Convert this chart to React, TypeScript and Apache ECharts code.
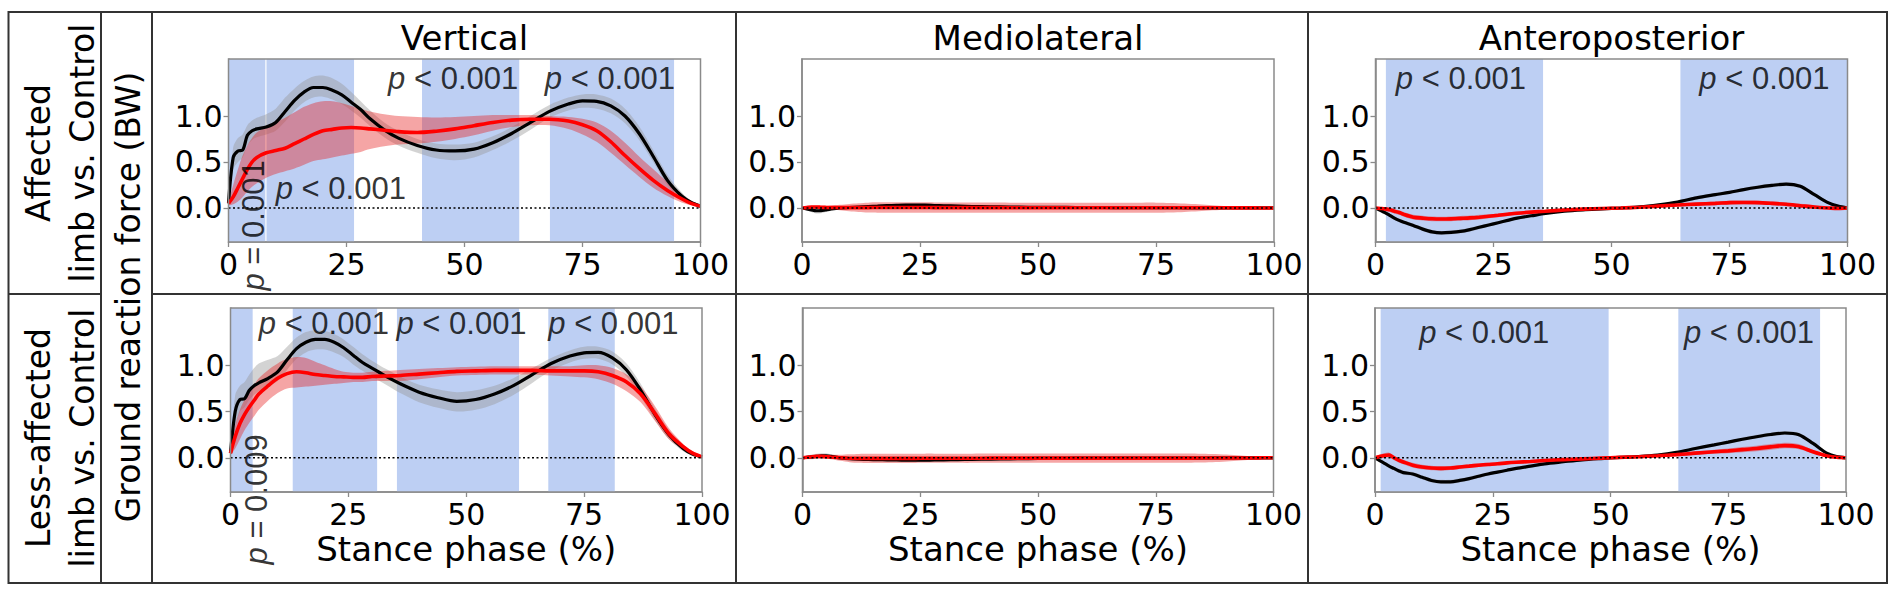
import React, { useEffect, useRef } from "react";
import * as echarts from "echarts";

// ---------- data ----------
const X = [0, 1, 2, 3, 4, 5, 6, 8, 10, 12, 14, 16, 18, 20, 22, 24, 26, 28, 30, 33, 36, 40, 44, 48, 52, 56, 60, 64, 68, 72, 75, 78, 81, 84, 87, 90, 93, 96, 98, 100];

const COLUMN_TITLES = ["Vertical", "Mediolateral", "Anteroposterior"];
const ROW_LABELS = ["Affected\nlimb vs. Control", "Less-affected\nlimb vs. Control"];
const Y_LABEL = "Ground reaction force (BW)";
const X_LABEL = "Stance phase (%)";
const X_TICKS_INTERVAL = 25;
const Y_TICKS = [0, 0.5, 1.0];
const Y_MIN = -0.37;
const Y_MAX = 1.62;

// Vertical, affected limb vs control
const V1_CTRL_MEAN = [0.05, 0.55, 0.62, 0.63, 0.79, 0.84, 0.86, 0.88, 0.93, 1.05, 1.17, 1.26, 1.31, 1.31, 1.28, 1.23, 1.15, 1.07, 0.97, 0.85, 0.76, 0.68, 0.63, 0.62, 0.64, 0.71, 0.81, 0.93, 1.05, 1.13, 1.165, 1.16, 1.11, 1.0, 0.81, 0.56, 0.3, 0.13, 0.06, 0.02];
const V1_CTRL_HI = [0.08, 0.66, 0.76, 0.8, 0.9, 0.95, 0.98, 1.02, 1.08, 1.2, 1.3, 1.38, 1.43, 1.44, 1.41, 1.35, 1.26, 1.16, 1.06, 0.93, 0.84, 0.75, 0.7, 0.69, 0.71, 0.78, 0.88, 1.0, 1.12, 1.2, 1.235, 1.235, 1.19, 1.08, 0.89, 0.63, 0.36, 0.17, 0.08, 0.03];
const V1_CTRL_LO = [0.02, 0.42, 0.5, 0.55, 0.68, 0.74, 0.77, 0.8, 0.84, 0.94, 1.06, 1.15, 1.2, 1.21, 1.18, 1.13, 1.06, 0.98, 0.89, 0.77, 0.68, 0.6, 0.54, 0.52, 0.55, 0.63, 0.73, 0.85, 0.98, 1.06, 1.09, 1.08, 1.03, 0.92, 0.74, 0.5, 0.25, 0.1, 0.04, 0.01];
const V1_PT_MEAN = [0.05, 0.12, 0.22, 0.32, 0.42, 0.5, 0.55, 0.6, 0.625, 0.65, 0.7, 0.75, 0.8, 0.84, 0.855, 0.87, 0.875, 0.87, 0.86, 0.845, 0.83, 0.82, 0.835, 0.86, 0.895, 0.93, 0.955, 0.965, 0.965, 0.945, 0.905, 0.84, 0.72, 0.57, 0.43, 0.3, 0.19, 0.1, 0.05, 0.02];
const V1_PT_HI = [0.07, 0.25, 0.42, 0.57, 0.68, 0.76, 0.82, 0.88, 0.93, 0.98, 1.04, 1.1, 1.14, 1.16, 1.16, 1.14, 1.11, 1.08, 1.05, 1.02, 1.0, 0.99, 0.985, 0.99, 1.0, 1.01, 1.01, 1.01, 1.0, 0.99, 0.97, 0.93, 0.84, 0.71, 0.56, 0.42, 0.28, 0.15, 0.08, 0.03];
const V1_PT_LO = [0.03, 0.04, 0.07, 0.12, 0.18, 0.23, 0.27, 0.33, 0.37, 0.4, 0.43, 0.47, 0.51, 0.53, 0.55, 0.57, 0.59, 0.61, 0.64, 0.67, 0.69, 0.7, 0.72, 0.75, 0.79, 0.84, 0.88, 0.9, 0.9, 0.86, 0.8, 0.72, 0.6, 0.47, 0.34, 0.22, 0.13, 0.06, 0.03, 0.01];

// Vertical, less-affected limb vs control
const V2_CTRL_MEAN = [0.05, 0.5, 0.63, 0.64, 0.73, 0.78, 0.81, 0.86, 0.93, 1.06, 1.18, 1.25, 1.28, 1.28, 1.25, 1.19, 1.11, 1.03, 0.97, 0.88, 0.8, 0.71, 0.65, 0.61, 0.63, 0.69, 0.78, 0.9, 1.02, 1.1, 1.135, 1.14, 1.08, 0.95, 0.73, 0.47, 0.25, 0.1, 0.04, 0.01];
const V2_CTRL_HI = [0.1, 0.68, 0.78, 0.82, 0.9, 0.97, 1.02, 1.06, 1.1, 1.2, 1.3, 1.36, 1.38, 1.37, 1.34, 1.28, 1.2, 1.12, 1.05, 0.96, 0.88, 0.79, 0.74, 0.71, 0.73, 0.78, 0.86, 0.97, 1.08, 1.16, 1.2, 1.2, 1.15, 1.02, 0.8, 0.53, 0.3, 0.13, 0.06, 0.02];
const V2_CTRL_LO = [0.02, 0.32, 0.5, 0.55, 0.63, 0.68, 0.72, 0.77, 0.83, 0.95, 1.07, 1.14, 1.17, 1.17, 1.14, 1.09, 1.01, 0.94, 0.88, 0.79, 0.7, 0.6, 0.54, 0.5, 0.52, 0.58, 0.68, 0.81, 0.94, 1.03, 1.07, 1.07, 1.01, 0.88, 0.66, 0.41, 0.2, 0.07, 0.02, 0.0];
const V2_PT_MEAN = [0.05, 0.23, 0.37, 0.47, 0.55, 0.62, 0.69, 0.78, 0.86, 0.91, 0.93, 0.92, 0.9, 0.89, 0.88, 0.875, 0.87, 0.87, 0.88, 0.885, 0.89, 0.905, 0.92, 0.935, 0.94, 0.945, 0.945, 0.945, 0.94, 0.94, 0.94, 0.93, 0.89, 0.82, 0.69, 0.48, 0.26, 0.12, 0.05, 0.01];
const V2_PT_HI = [0.07, 0.35, 0.52, 0.63, 0.71, 0.79, 0.86, 0.95, 1.02, 1.07, 1.09, 1.08, 1.04, 1.0, 0.96, 0.93, 0.92, 0.92, 0.93, 0.94, 0.95, 0.96, 0.97, 0.98, 0.985, 0.99, 0.99, 0.99, 0.99, 0.99, 1.0, 1.0, 0.97, 0.9, 0.77, 0.56, 0.32, 0.15, 0.07, 0.02];
const V2_PT_LO = [0.03, 0.1, 0.2, 0.3, 0.38, 0.45, 0.52, 0.62, 0.7, 0.75, 0.76, 0.77, 0.78, 0.79, 0.8, 0.81, 0.82, 0.82, 0.83, 0.83, 0.83, 0.85, 0.87, 0.89, 0.895, 0.9, 0.9, 0.9, 0.89, 0.88, 0.87, 0.85, 0.8, 0.72, 0.6, 0.4, 0.2, 0.09, 0.03, 0.0];

// Mediolateral
const ML1_CTRL_MEAN = [0, -0.01, -0.02, -0.03, -0.028, -0.02, -0.012, 0, 0.005, 0.01, 0.015, 0.02, 0.025, 0.028, 0.03, 0.03, 0.03, 0.027, 0.024, 0.02, 0.016, 0.012, 0.01, 0.008, 0.007, 0.006, 0.005, 0.005, 0.004, 0.004, 0.003, 0.003, 0.002, 0.002, 0.001, 0.001, 0, 0, 0, 0];
const ML1_CTRL_SD = [0.005, 0.015, 0.025, 0.03, 0.03, 0.025, 0.02, 0.015, 0.015, 0.015, 0.015, 0.015, 0.015, 0.015, 0.015, 0.015, 0.015, 0.015, 0.015, 0.015, 0.012, 0.012, 0.012, 0.012, 0.012, 0.012, 0.012, 0.012, 0.012, 0.012, 0.012, 0.012, 0.01, 0.01, 0.01, 0.008, 0.006, 0.005, 0.004, 0.003];
const ML1_PT_MEAN = [0, 0.005, 0.01, 0.01, 0.008, 0.006, 0.005, 0.004, 0.004, 0.004, 0.004, 0.005, 0.005, 0.005, 0.005, 0.005, 0.005, 0.004, 0.004, 0.004, 0.004, 0.004, 0.003, 0.003, 0.003, 0.003, 0.003, 0.003, 0.003, 0.003, 0.003, 0.003, 0.003, 0.002, 0.002, 0.002, 0.001, 0.001, 0, 0];
const ML1_PT_SD = [0.006, 0.01, 0.012, 0.014, 0.016, 0.018, 0.022, 0.03, 0.04, 0.048, 0.054, 0.056, 0.056, 0.056, 0.056, 0.056, 0.056, 0.056, 0.056, 0.056, 0.055, 0.055, 0.055, 0.055, 0.055, 0.055, 0.055, 0.055, 0.055, 0.055, 0.055, 0.052, 0.046, 0.038, 0.028, 0.018, 0.012, 0.009, 0.007, 0.005];
const ML2_CTRL_MEAN = [0, 0.005, 0.01, 0.015, 0.02, 0.02, 0.015, 0.0, -0.01, -0.015, -0.018, -0.02, -0.022, -0.024, -0.025, -0.025, -0.025, -0.024, -0.022, -0.02, -0.017, -0.014, -0.011, -0.008, -0.006, -0.005, -0.004, -0.004, -0.004, -0.004, -0.004, -0.004, -0.003, -0.003, -0.002, -0.002, -0.001, 0, 0, 0];
const ML2_CTRL_SD = [0.005, 0.02, 0.025, 0.028, 0.03, 0.028, 0.022, 0.015, 0.012, 0.012, 0.012, 0.012, 0.012, 0.012, 0.012, 0.012, 0.012, 0.012, 0.012, 0.012, 0.012, 0.012, 0.012, 0.012, 0.012, 0.012, 0.012, 0.012, 0.012, 0.012, 0.012, 0.012, 0.012, 0.01, 0.01, 0.008, 0.006, 0.005, 0.004, 0.003];
const ML2_PT_MEAN = [0, 0.006, 0.012, 0.015, 0.015, 0.012, 0.008, 0.0, -0.005, -0.006, -0.006, -0.006, -0.006, -0.006, -0.006, -0.006, -0.005, -0.005, -0.005, -0.005, -0.005, -0.004, -0.004, -0.004, -0.004, -0.004, -0.004, -0.004, -0.004, -0.004, -0.004, -0.004, -0.004, -0.003, -0.003, -0.002, -0.002, -0.001, 0, 0];
const ML2_PT_SD = [0.006, 0.012, 0.014, 0.016, 0.018, 0.02, 0.024, 0.032, 0.042, 0.048, 0.05, 0.05, 0.05, 0.05, 0.05, 0.05, 0.05, 0.05, 0.05, 0.05, 0.05, 0.05, 0.05, 0.05, 0.05, 0.05, 0.05, 0.05, 0.05, 0.05, 0.05, 0.05, 0.05, 0.048, 0.045, 0.038, 0.028, 0.018, 0.01, 0.006];

// Anteroposterior
const AP1_CTRL_MEAN = [0, -0.025, -0.05, -0.08, -0.11, -0.135, -0.155, -0.19, -0.23, -0.26, -0.27, -0.265, -0.255, -0.235, -0.21, -0.185, -0.16, -0.135, -0.11, -0.085, -0.06, -0.035, -0.02, -0.01, 0.0, 0.012, 0.035, 0.065, 0.11, 0.145, 0.17, 0.2, 0.225, 0.245, 0.26, 0.235, 0.145, 0.055, 0.02, 0];
const AP1_CTRL_SD = [0.005, 0.01, 0.015, 0.02, 0.02, 0.02, 0.02, 0.02, 0.02, 0.02, 0.02, 0.02, 0.02, 0.02, 0.02, 0.02, 0.015, 0.015, 0.015, 0.012, 0.012, 0.01, 0.01, 0.01, 0.01, 0.01, 0.012, 0.012, 0.015, 0.015, 0.015, 0.018, 0.02, 0.02, 0.02, 0.02, 0.018, 0.012, 0.008, 0.005];
const AP1_PT_MEAN = [0, -0.005, -0.01, -0.02, -0.035, -0.05, -0.07, -0.1, -0.11, -0.118, -0.12, -0.118, -0.113, -0.108, -0.1, -0.09, -0.08, -0.068, -0.057, -0.045, -0.035, -0.022, -0.012, -0.006, 0.0, 0.008, 0.02, 0.032, 0.042, 0.05, 0.058, 0.06, 0.058, 0.05, 0.04, 0.025, 0.01, 0.0, -0.005, 0];
const AP1_PT_SD = [0.01, 0.015, 0.02, 0.025, 0.025, 0.025, 0.025, 0.025, 0.025, 0.025, 0.025, 0.025, 0.025, 0.025, 0.025, 0.022, 0.02, 0.02, 0.018, 0.016, 0.015, 0.015, 0.015, 0.015, 0.015, 0.015, 0.015, 0.015, 0.018, 0.02, 0.02, 0.02, 0.02, 0.02, 0.02, 0.02, 0.018, 0.015, 0.015, 0.012];
const AP2_CTRL_MEAN = [0, -0.03, -0.06, -0.09, -0.115, -0.14, -0.16, -0.175, -0.21, -0.245, -0.26, -0.26, -0.245, -0.225, -0.2, -0.175, -0.155, -0.135, -0.115, -0.09, -0.065, -0.043, -0.022, -0.008, 0.004, 0.014, 0.03, 0.058, 0.1, 0.14, 0.17, 0.2, 0.228, 0.252, 0.268, 0.25, 0.155, 0.047, 0.012, 0];
const AP2_CTRL_SD = [0.005, 0.012, 0.018, 0.02, 0.022, 0.022, 0.022, 0.022, 0.022, 0.022, 0.022, 0.022, 0.02, 0.02, 0.018, 0.016, 0.015, 0.014, 0.013, 0.012, 0.011, 0.01, 0.01, 0.01, 0.01, 0.01, 0.012, 0.012, 0.015, 0.016, 0.017, 0.018, 0.02, 0.02, 0.02, 0.02, 0.018, 0.012, 0.008, 0.005];
const AP2_PT_MEAN = [0, 0.015, 0.025, 0.03, 0.0, -0.025, -0.045, -0.08, -0.1, -0.11, -0.115, -0.11, -0.1, -0.09, -0.08, -0.072, -0.065, -0.055, -0.048, -0.04, -0.03, -0.02, -0.012, -0.004, 0.004, 0.012, 0.022, 0.034, 0.05, 0.065, 0.075, 0.088, 0.1, 0.118, 0.132, 0.12, 0.065, 0.02, 0.005, 0];
const AP2_PT_SD = [0.01, 0.02, 0.025, 0.025, 0.025, 0.025, 0.025, 0.025, 0.025, 0.025, 0.025, 0.022, 0.02, 0.02, 0.02, 0.018, 0.016, 0.015, 0.015, 0.015, 0.015, 0.015, 0.015, 0.015, 0.015, 0.015, 0.015, 0.018, 0.02, 0.022, 0.025, 0.028, 0.03, 0.03, 0.03, 0.028, 0.02, 0.015, 0.012, 0.01];

// significance bands (stance phase %)
const V1_BANDS = [[0, 7.8], [8.05, 26.6], [41.0, 61.6], [68.1, 94.4]];
const ML1_BANDS: number[][] = [];
const AP1_BANDS = [[2.2, 35.5], [64.6, 100]];
const V2_BANDS = [[0, 4.7], [13.2, 31.1], [35.3, 61.2], [67.4, 81.5]];
const ML2_BANDS: number[][] = [];
const AP2_BANDS = [[1.2, 49.6], [64.4, 94.5]];

// p-value annotations: [x, y, text, rotation]
const V1_P: [number, number, string, number][] = [[47.6, 1.405, "< 0.001", 0], [80.8, 1.405, "< 0.001", 0], [23.8, 0.216, "< 0.001", 0], [5.2, -0.19, "= 0.001", 90]];
const ML1_P: [number, number, string, number][] = [];
const AP1_P: [number, number, string, number][] = [[18.1, 1.405, "< 0.001", 0], [82.4, 1.405, "< 0.001", 0]];
const V2_P: [number, number, string, number][] = [[19.8, 1.45, "< 0.001", 0], [49.0, 1.45, "< 0.001", 0], [81.2, 1.45, "< 0.001", 0], [5.6, -0.45, "= 0.009", 90]];
const ML2_P: [number, number, string, number][] = [];
const AP2_P: [number, number, string, number][] = [[23.2, 1.355, "< 0.001", 0], [79.4, 1.355, "< 0.001", 0]];

// ---------- layout / style ----------
const PLOT_LEFT = [[228.5, 802, 1375.5], [230.5, 802.5, 1375]];
const PLOT_W = [[472, 472, 472], [471.5, 471, 471]];
const ROW_TOP = [59, 308];
const ROW_H = [183, 184];
const FONT_UI = "'DejaVu Sans', sans-serif";
const FONT_P = "'Liberation Sans', Arial, sans-serif";
const BAND_COLOR = "#bdcff3";
const GRAY_SD = "rgba(150,150,150,0.42)";
const RED_SD = "rgba(230,30,30,0.4)";
const FRAME = "#8a8a8a";
const TABLE = "#333333";

const withSd = (mean: number[], sd: number[]) => ({ mean, hi: mean.map((v, i) => v + sd[i]), lo: mean.map((v, i) => v - sd[i]) });

const PANELS = [
  { ctrl: { mean: V1_CTRL_MEAN, hi: V1_CTRL_HI, lo: V1_CTRL_LO }, pt: { mean: V1_PT_MEAN, hi: V1_PT_HI, lo: V1_PT_LO }, bands: V1_BANDS, p: V1_P },
  { ctrl: withSd(ML1_CTRL_MEAN, ML1_CTRL_SD), pt: withSd(ML1_PT_MEAN, ML1_PT_SD), bands: ML1_BANDS, p: ML1_P },
  { ctrl: withSd(AP1_CTRL_MEAN, AP1_CTRL_SD), pt: withSd(AP1_PT_MEAN, AP1_PT_SD), bands: AP1_BANDS, p: AP1_P },
  { ctrl: { mean: V2_CTRL_MEAN, hi: V2_CTRL_HI, lo: V2_CTRL_LO }, pt: { mean: V2_PT_MEAN, hi: V2_PT_HI, lo: V2_PT_LO }, bands: V2_BANDS, p: V2_P },
  { ctrl: withSd(ML2_CTRL_MEAN, ML2_CTRL_SD), pt: withSd(ML2_PT_MEAN, ML2_PT_SD), bands: ML2_BANDS, p: ML2_P },
  { ctrl: withSd(AP2_CTRL_MEAN, AP2_CTRL_SD), pt: withSd(AP2_PT_MEAN, AP2_PT_SD), bands: AP2_BANDS, p: AP2_P },
];

// band between lo and hi drawn as one polygon through the axis scales
const bandRenderItem = (color: string) => (params: any, api: any) => {
  if (params.dataIndex !== 0) return null;
  const n = params.dataInsideLength;
  const top: number[][] = [];
  const bot: number[][] = [];
  for (let k = 0; k < n; k++) {
    const x = api.value(0, k);
    top.push(api.coord([x, api.value(2, k)]));
    bot.push(api.coord([x, api.value(1, k)]));
  }
  return {
    type: "polygon",
    shape: { points: top.concat(bot.reverse()), smooth: 0.3 },
    style: { fill: color, stroke: "none" },
    silent: true,
  };
};

function buildOption() {
  const grid: any[] = [];
  const xAxis: any[] = [];
  const yAxis: any[] = [];
  const series: any[] = [];
  const graphic: any[] = [];

  PANELS.forEach((panel, i) => {
    const r = Math.floor(i / 3);
    const c = i % 3;
    const left = PLOT_LEFT[r][c];
    const width = PLOT_W[r][c];
    grid.push({ left, top: ROW_TOP[r], width, height: ROW_H[r], containLabel: false, outerBoundsMode: "none" });
    xAxis.push({
      type: "value", gridIndex: i, min: 0, max: 100, interval: X_TICKS_INTERVAL,
      axisLine: { show: true, onZero: false, lineStyle: { color: FRAME, width: 1.5 } },
      axisTick: { show: true, length: 5, lineStyle: { color: FRAME, width: 1.3 } },
      axisLabel: { color: "#000", fontFamily: FONT_UI, fontSize: 30, margin: 7 },
      splitLine: { show: false },
      name: r === 1 ? X_LABEL : "", nameLocation: "middle", nameGap: 40,
      nameTextStyle: { color: "#000", fontFamily: FONT_UI, fontSize: 34 },
    });
    yAxis.push({
      type: "value", gridIndex: i, min: Y_MIN, max: Y_MAX,
      axisLine: { show: true, onZero: false, lineStyle: { color: FRAME, width: 1.5 } },
      axisTick: { show: true, length: 5, customValues: Y_TICKS, lineStyle: { color: FRAME, width: 1.3 } },
      axisLabel: { customValues: Y_TICKS, formatter: (v: number) => v.toFixed(1), color: "#000", fontFamily: FONT_UI, fontSize: 30, margin: 6 },
      splitLine: { show: false },
    });
    const ax = { xAxisIndex: i, yAxisIndex: i };
    // significance bands
    series.push({
      ...ax, type: "line", data: [[0, 0], [100, 0]], symbol: "none", silent: true, z: 1,
      lineStyle: { opacity: 0 },
      markArea: { silent: true, z: 1, itemStyle: { color: BAND_COLOR }, data: panel.bands.map(([a, b]) => [{ xAxis: a }, { xAxis: b }]) },
    });
    // SD bands (control gray, patient red)
    const sdBand = (curve: any, color: string, z: number) => {
      series.push({
        ...ax, type: "custom", silent: true, z, clip: true,
        data: X.map((x, k) => [x, curve.lo[k], curve.hi[k]]),
        encode: { x: 0, y: [1, 2] },
        renderItem: bandRenderItem(color),
      });
    };
    sdBand(panel.ctrl, GRAY_SD, 2);
    sdBand(panel.pt, RED_SD, 3);
    // mean curves
    series.push({ ...ax, type: "line", symbol: "none", smooth: 0.3, silent: true, z: 4, lineStyle: { color: "#000", width: 3.2 }, data: X.map((x, k) => [x, panel.ctrl.mean[k]]) });
    series.push({ ...ax, type: "line", symbol: "none", smooth: 0.3, silent: true, z: 5, lineStyle: { color: "#ff0000", width: 3.6 }, data: X.map((x, k) => [x, panel.pt.mean[k]]) });
    // zero line
    series.push({ ...ax, type: "line", symbol: "none", silent: true, z: 6, lineStyle: { color: "#000", width: 1.5, type: [2, 2.5] }, data: [[0, 0], [100, 0]] });
    // p labels
    if (panel.p.length) {
      series.push({
        ...ax, type: "scatter", symbolSize: 1, clip: false, silent: true, z: 10,
        itemStyle: { color: "rgba(0,0,0,0)" },
        data: panel.p.map(([x, y, t, rot]) => ({ value: [x, y], name: t, label: { rotate: rot } })),
        label: {
          show: true, position: "inside", align: "center", verticalAlign: "middle",
          formatter: (d: any) => "{i|p} " + d.name,
          color: "#000", fontFamily: FONT_P, fontSize: 31,
          rich: { i: { fontStyle: "italic", fontFamily: FONT_P, fontSize: 31, color: "#000" } },
        },
      });
    }
    // plot frame
    graphic.push({ type: "rect", silent: true, z: 50, shape: { x: left, y: ROW_TOP[r], width, height: ROW_H[r] }, style: { fill: "none", stroke: FRAME, lineWidth: 1.5 } });
  });

  // column titles
  COLUMN_TITLES.forEach((t, c) => {
    graphic.push({ type: "text", silent: true, z: 60, x: PLOT_LEFT[0][c] + PLOT_W[0][c] / 2, y: 38, style: { text: t, fontFamily: FONT_UI, fontSize: 34, fill: "#000", align: "center", verticalAlign: "middle" } });
  });
  // row labels
  ROW_LABELS.forEach((t, r) => {
    graphic.push({ type: "text", silent: true, z: 60, x: 60, y: r === 0 ? 153 : 438, rotation: Math.PI / 2, style: { text: t, fontFamily: FONT_UI, fontSize: 33, lineHeight: 44, fill: "#000", align: "center", verticalAlign: "middle" } });
  });
  graphic.push({ type: "text", silent: true, z: 60, x: 128, y: 297, rotation: Math.PI / 2, style: { text: Y_LABEL, fontFamily: FONT_UI, fontSize: 33, fill: "#000", align: "center", verticalAlign: "middle" } });

  // table lines
  const L = 8.5, R = 1887, T = 12, B = 583, MID = 294;
  const line = (x1: number, y1: number, x2: number, y2: number) => ({ type: "line", silent: true, z: 60, shape: { x1, y1, x2, y2 }, style: { stroke: TABLE, lineWidth: 2 } });
  graphic.push({ type: "rect", silent: true, z: 60, shape: { x: L, y: T, width: R - L, height: B - T }, style: { fill: "none", stroke: TABLE, lineWidth: 2 } });
  [101, 152, 736, 1308].forEach((x) => graphic.push(line(x, T, x, B)));
  graphic.push(line(L, MID, 101, MID));
  graphic.push(line(152, MID, R, MID));

  return { animation: false, backgroundColor: "#fff", grid, xAxis, yAxis, series, graphic };
}

export default function App() {
  const ref = useRef<HTMLDivElement>(null);
  useEffect(() => {
    document.body.style.margin = "0";
    const chart = echarts.init(ref.current as HTMLDivElement, null, { renderer: "svg" });
    chart.setOption(buildOption() as any);
    return () => chart.dispose();
  }, []);
  return <div ref={ref} style={{ position: "absolute", left: 0, top: 0, width: 1890, height: 595, background: "#fff" }} />;
}
